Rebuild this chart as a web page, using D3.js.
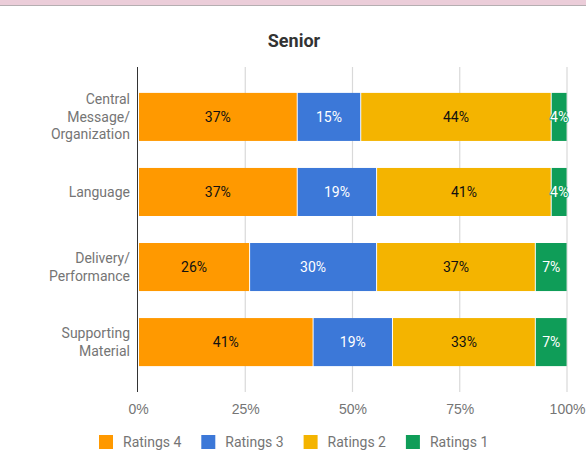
<!DOCTYPE html>
<html>
<head>
<meta charset="utf-8">
<script src="https://cdn.jsdelivr.net/npm/d3@7"></script>
<style>
  body { margin: 0; background: #fff; }
  svg { display: block; font-family: Roboto, "Noto Sans", sans-serif; }
</style>
</head>
<body>
<div id="container"></div>
<script>
/* CONSTANTS AND GLOBALS */
const width = 586;
const height = 467;
const plotLeft = 138, plotRight = 567, plotTop = 67, plotBottom = 392;

/* DATA */
const categories = [["Central", "Message/", "Organization"], ["Language"], ["Delivery/", "Performance"], ["Supporting", "Material"]];
const seriesNames = ["Ratings 4", "Ratings 3", "Ratings 2", "Ratings 1"];
const seriesColors = ["#ff9900", "#3c78d8", "#f4b400", "#0f9d58"];
const labelColors = ["#111", "#fff", "#111", "#fff"];
const ratings4 = [37.0, 37.0, 25.9, 40.7];
const ratings3 = [14.8, 18.5, 29.6, 18.5];
const ratings2 = [44.4, 40.7, 37.0, 33.3];
const ratings1 = [3.7, 3.7, 7.4, 7.4];
const tickValues = [0, 25, 50, 75, 100];

const series = [ratings4, ratings3, ratings2, ratings1];
const keys = categories.map(c => c.join(" "));
const table = keys.map((k, i) => {
  const row = { key: k };
  seriesNames.forEach((s, j) => row[s] = series[j][i]);
  return row;
});
const stacked = d3.stack().keys(seriesNames)(table);

/* SCALES */
const xScale = d3.scaleLinear().domain([0, 100]).range([plotLeft, plotRight]);
const yScale = d3.scaleBand().domain(keys).range([plotTop, plotBottom])
  .paddingInner(0.36).paddingOuter(0.345);

/* HTML ELEMENTS */
const svg = d3.select("#container").append("svg")
  .attr("width", width).attr("height", height);

// top band
svg.append("rect").attr("x", 0).attr("y", 0).attr("width", width).attr("height", 5).attr("fill", "#ebcdd9");
svg.append("rect").attr("x", 0).attr("y", 5).attr("width", width).attr("height", 1).attr("fill", "#b5aeb1");

// title
svg.append("text")
  .attr("x", 294).attr("y", 47)
  .attr("text-anchor", "middle")
  .attr("font-size", 18).attr("font-weight", "bold").attr("fill", "#333")
  .text("Senior");

// gridlines
svg.append("g")
  .selectAll("line")
  .data(tickValues.slice(1))
  .join("line")
  .attr("x1", d => xScale(d)).attr("x2", d => xScale(d))
  .attr("y1", plotTop).attr("y2", plotBottom)
  .attr("stroke", "#d9d9d9").attr("stroke-width", 1.2);

// x axis labels
const xAxis = d3.axisBottom(xScale).tickValues(tickValues).tickSize(0).tickPadding(0)
  .tickFormat(d => d + "%");
svg.append("g")
  .attr("transform", `translate(0,${plotBottom + 22})`)
  .call(xAxis)
  .call(g => g.select(".domain").remove())
  .call(g => g.selectAll("text").attr("font-family", null).attr("font-size", 14).attr("fill", "#757575").attr("dy", 0));

// bars
const groups = svg.append("g")
  .selectAll("g")
  .data(stacked)
  .join("g")
  .attr("fill", (d, i) => seriesColors[i]);

groups.selectAll("rect")
  .data(d => d)
  .join("rect")
  .attr("x", d => xScale(d[0]) + 1)
  .attr("y", d => yScale(d.data.key))
  .attr("width", d => Math.max(0, xScale(d[1]) - xScale(d[0]) - 1))
  .attr("height", yScale.bandwidth());

// bar labels
stacked.forEach((s, i) => {
  svg.append("g")
    .selectAll("text")
    .data(s)
    .join("text")
    .attr("x", d => (xScale(d[0]) + xScale(d[1])) / 2 + 0.5)
    .attr("y", d => yScale(d.data.key) + yScale.bandwidth() / 2)
    .attr("dy", "0.35em")
    .attr("text-anchor", "middle")
    .attr("font-size", 14)
    .attr("fill", labelColors[i])
    .attr("stroke", (d) => (xScale(d[1]) - xScale(d[0]) < 25 ? seriesColors[i] : "none"))
    .attr("stroke-width", 2)
    .attr("paint-order", "stroke")
    .text(d => Math.round(d[1] - d[0]) + "%");
});

// axis line
svg.append("line")
  .attr("x1", plotLeft - 0.5).attr("x2", plotLeft - 0.5)
  .attr("y1", plotTop).attr("y2", plotBottom)
  .attr("stroke", "#333").attr("stroke-width", 1);

// category labels
categories.forEach((lines, i) => {
  const cy = yScale(keys[i]) + yScale.bandwidth() / 2;
  const lh = 17.5;
  const t = svg.append("text")
    .attr("text-anchor", "end")
    .attr("font-size", 14)
    .attr("fill", "#757575");
  lines.forEach((l, j) => {
    t.append("tspan")
      .attr("x", 130)
      .attr("y", cy + (j - (lines.length - 1) / 2) * lh)
      .attr("dy", "0.35em")
      .text(l);
  });
});

// legend
const legend = svg.append("g")
  .selectAll("g")
  .data(seriesNames)
  .join("g")
  .attr("transform", (d, i) => `translate(${99 + i * 102.3},435)`);
legend.append("rect")
  .attr("width", 14).attr("height", 14)
  .attr("fill", (d, i) => seriesColors[i]);
legend.append("text")
  .attr("x", 24).attr("y", 7).attr("dy", "0.35em")
  .attr("font-size", 14).attr("fill", "#757575")
  .text(d => d);
</script>
</body>
</html>
